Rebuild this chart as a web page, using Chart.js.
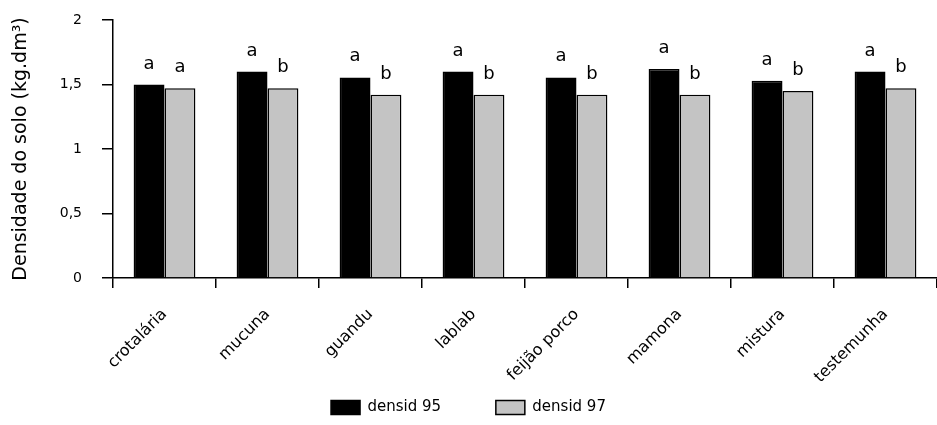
<!DOCTYPE html>
<html>
<head>
<meta charset="utf-8">
<script src="https://cdn.jsdelivr.net/npm/chart.js@4"></script>
<style>
  html, body { margin: 0; padding: 0; background: #fff; }
  #wrap { width: 937px; height: 425px; }
</style>
</head>
<body>
<div id="wrap"><canvas id="chartDensidade" width="937" height="425"></canvas></div>
<script>
// dados
const categorias = ["crotalária", "mucuna", "guandu", "lablab", "feijão porco", "mamona", "mistura", "testemunha"];
const densid95 = [1.50, 1.60, 1.555, 1.60, 1.555, 1.62, 1.53, 1.60];
const densid97 = [1.47, 1.47, 1.42, 1.42, 1.42, 1.42, 1.45, 1.47];
const letras95 = ["a", "a", "a", "a", "a", "a", "a", "a"];
const letras97 = ["a", "b", "b", "b", "b", "b", "b", "b"];
const yTicks = [0, 0.5, 1, 1.5, 2];

const fonte = "'DejaVu Sans', sans-serif";

// letras de significancia acima das barras
const letrasPlugin = {
    id: "letras",
    afterDatasetsDraw(chart) {
        const ctx = chart.ctx;
        const letras = [letras95, letras97];
        ctx.save();
        ctx.fillStyle = "#000";
        ctx.font = "18px " + fonte;
        ctx.textAlign = "center";
        ctx.textBaseline = "alphabetic";
        chart.data.datasets.forEach((ds, i) => {
            chart.getDatasetMeta(i).data.forEach((bar, j) => {
                ctx.fillText(letras[i][j], bar.x, bar.y - 16);
            });
        });
        ctx.restore();
    }
};

const ctx = document.getElementById("chartDensidade").getContext("2d");
new Chart(ctx, {
    type: "bar",
    plugins: [letrasPlugin],
    data: {
        labels: categorias,
        datasets: [
            {
                label: "densid 95",
                data: densid95,
                backgroundColor: "#000",
                borderColor: "#000",
                borderWidth: 1.5,
                categoryPercentage: 0.6,
                barPercentage: 1.0
            },
            {
                label: "densid 97",
                data: densid97,
                backgroundColor: "#c4c4c4",
                borderColor: "#000",
                borderWidth: 1.5,
                categoryPercentage: 0.6,
                barPercentage: 1.0
            }
        ]
    },
    options: {
        responsive: false,
        animation: false,
        layout: { padding: { top: 20, right: 0, bottom: 0, left: 0 } },
        plugins: {
            tooltip: { enabled: false },
            legend: {
                position: "bottom",
                labels: {
                    boxWidth: 29,
                    boxHeight: 14,
                    padding: 7,
                    color: "#000",
                    font: { family: fonte, size: 15 },
                    generateLabels(chart) {
                        return chart.data.datasets.map((ds, i) => ({
                            text: i === 0 ? ds.label + "          " : ds.label,
                            fillStyle: ds.backgroundColor,
                            strokeStyle: "#000",
                            lineWidth: 1.5,
                            hidden: false,
                            datasetIndex: i
                        }));
                    }
                }
            }
        },
        scales: {
            x: {
                afterFit(scale) { scale.height = 115; },
                border: { color: "#000", width: 1.5 },
                grid: {
                    offset: true,
                    drawOnChartArea: false,
                    color: "#000",
                    lineWidth: 1.5,
                    tickLength: 10
                },
                ticks: {
                    minRotation: 45,
                    maxRotation: 45,
                    padding: 17,
                    color: "#000",
                    font: { family: fonte, size: 16 }
                }
            },
            y: {
                min: 0,
                max: 2,
                afterFit(scale) {
                    scale.width = 113;
                    scale.paddingTop = 8;
                    scale.paddingBottom = 8;
                },
                afterBuildTicks(scale) { scale.ticks = yTicks.map(v => ({ value: v })); },
                border: { color: "#000", width: 1.5 },
                grid: {
                    drawOnChartArea: false,
                    color: "#000",
                    lineWidth: 1.5,
                    tickLength: 11
                },
                ticks: {
                    padding: 20,
                    color: "#000",
                    font: { family: fonte, size: 14 },
                    callback: (v) => String(v).replace(".", ",")
                },
                title: {
                    display: true,
                    text: "Densidade do solo (kg.dm³)",
                    color: "#000",
                    padding: { top: 10, bottom: 0 },
                    font: { family: fonte, size: 19 }
                }
            }
        }
    }
});
</script>
</body>
</html>
